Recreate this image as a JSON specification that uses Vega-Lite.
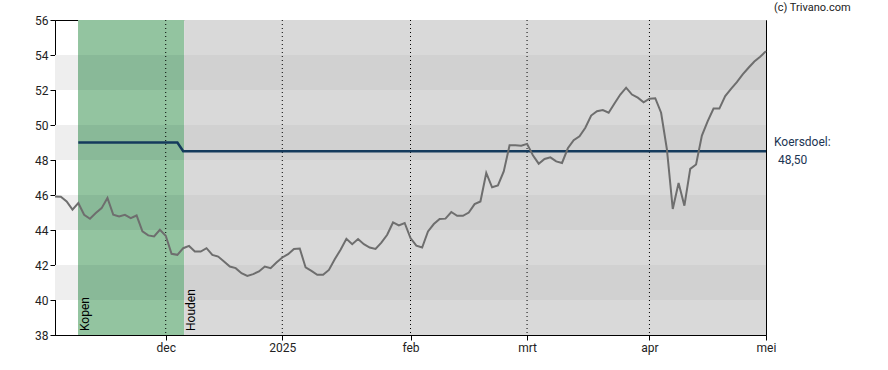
{
  "$schema": "https://vega.github.io/schema/vega-lite/v6.json",
  "width": 711,
  "height": 315,
  "autosize": {"type": "none"},
  "padding": {"left": 55, "top": 20, "right": 122, "bottom": 35},
  "background": "white",
  "config": {
    "font": "Roboto",
    "view": {"stroke": "black", "strokeWidth": 1},
    "axis": {"labelFont": "Roboto", "labelFontSize": 12, "labelColor": "#222", "domainColor": "black", "tickColor": "black", "tickSize": 5, "labelPadding": 2, "grid": false, "title": null, "labelOverlap": false, "labelFlush": false},
    "axisY": {"tickCount": 10, "labelOverlap": false}
  },
  "datasets": {
    "zones": [
      {"x": 3.95, "x2": 22.15, "y": 38, "y2": 56, "z": "kopen"},
      {"x": 22.15, "x2": 122, "y": 38, "y2": 56, "z": "houden"},
      {"x": 0, "x2": 3.95, "y": 40, "y2": 42, "z": "pre_band"},
      {"x": 0, "x2": 3.95, "y": 44, "y2": 46, "z": "pre_band"},
      {"x": 0, "x2": 3.95, "y": 48, "y2": 50, "z": "pre_band"},
      {"x": 0, "x2": 3.95, "y": 52, "y2": 54, "z": "pre_band"},
      {"x": 3.95, "x2": 22.15, "y": 40, "y2": 42, "z": "kopen_band"},
      {"x": 3.95, "x2": 22.15, "y": 44, "y2": 46, "z": "kopen_band"},
      {"x": 3.95, "x2": 22.15, "y": 48, "y2": 50, "z": "kopen_band"},
      {"x": 3.95, "x2": 22.15, "y": 52, "y2": 54, "z": "kopen_band"},
      {"x": 22.15, "x2": 122, "y": 40, "y2": 42, "z": "houden_band"},
      {"x": 22.15, "x2": 122, "y": 44, "y2": 46, "z": "houden_band"},
      {"x": 22.15, "x2": 122, "y": 48, "y2": 50, "z": "houden_band"},
      {"x": 22.15, "x2": 122, "y": 52, "y2": 54, "z": "houden_band"}
    ],
    "months": [{"i": 19}, {"i": 39}, {"i": 61}, {"i": 81}, {"i": 102}],
    "advice": [{"x": 3.95, "label": "Kopen"}, {"x": 22.15, "label": "Houden"}],
    "target": [{"i": 4, "v": 49}, {"i": 21, "v": 49}, {"i": 22, "v": 48.5}, {"i": 122, "v": 48.5}],
    "price": [
      {"i": 0, "v": 45.92}, {"i": 1, "v": 45.9}, {"i": 2, "v": 45.63}, {"i": 3, "v": 45.16}, {"i": 4, "v": 45.54},
      {"i": 5, "v": 44.87}, {"i": 6, "v": 44.64}, {"i": 7, "v": 44.97}, {"i": 8, "v": 45.25}, {"i": 9, "v": 45.83},
      {"i": 10, "v": 44.87}, {"i": 11, "v": 44.77}, {"i": 12, "v": 44.87}, {"i": 13, "v": 44.68}, {"i": 14, "v": 44.83},
      {"i": 15, "v": 43.92}, {"i": 16, "v": 43.69}, {"i": 17, "v": 43.63}, {"i": 18, "v": 44.01}, {"i": 19, "v": 43.67},
      {"i": 20, "v": 42.64}, {"i": 21, "v": 42.58}, {"i": 22, "v": 42.96}, {"i": 23, "v": 43.09}, {"i": 24, "v": 42.77},
      {"i": 25, "v": 42.77}, {"i": 26, "v": 42.96}, {"i": 27, "v": 42.58}, {"i": 28, "v": 42.48}, {"i": 29, "v": 42.2},
      {"i": 30, "v": 41.91}, {"i": 31, "v": 41.82}, {"i": 32, "v": 41.53}, {"i": 33, "v": 41.38}, {"i": 34, "v": 41.48},
      {"i": 35, "v": 41.63}, {"i": 36, "v": 41.91}, {"i": 37, "v": 41.82}, {"i": 38, "v": 42.14}, {"i": 39, "v": 42.43},
      {"i": 40, "v": 42.62}, {"i": 41, "v": 42.92}, {"i": 42, "v": 42.94}, {"i": 43, "v": 41.86}, {"i": 44, "v": 41.66},
      {"i": 45, "v": 41.44}, {"i": 46, "v": 41.44}, {"i": 47, "v": 41.72}, {"i": 48, "v": 42.33}, {"i": 49, "v": 42.87},
      {"i": 50, "v": 43.5}, {"i": 51, "v": 43.19}, {"i": 52, "v": 43.48}, {"i": 53, "v": 43.19}, {"i": 54, "v": 43.0},
      {"i": 55, "v": 42.92}, {"i": 56, "v": 43.28}, {"i": 57, "v": 43.73}, {"i": 58, "v": 44.43}, {"i": 59, "v": 44.26},
      {"i": 60, "v": 44.4}, {"i": 61, "v": 43.54}, {"i": 62, "v": 43.11}, {"i": 63, "v": 43.0}, {"i": 64, "v": 43.92},
      {"i": 65, "v": 44.34}, {"i": 66, "v": 44.63}, {"i": 67, "v": 44.65}, {"i": 68, "v": 45.03}, {"i": 69, "v": 44.81},
      {"i": 70, "v": 44.81}, {"i": 71, "v": 45.0}, {"i": 72, "v": 45.48}, {"i": 73, "v": 45.63}, {"i": 74, "v": 47.26},
      {"i": 75, "v": 46.44}, {"i": 76, "v": 46.55}, {"i": 77, "v": 47.35}, {"i": 78, "v": 48.84}, {"i": 79, "v": 48.84},
      {"i": 80, "v": 48.82}, {"i": 81, "v": 48.92}, {"i": 82, "v": 48.27}, {"i": 83, "v": 47.79}, {"i": 84, "v": 48.06},
      {"i": 85, "v": 48.15}, {"i": 86, "v": 47.92}, {"i": 87, "v": 47.83}, {"i": 88, "v": 48.67}, {"i": 89, "v": 49.13},
      {"i": 90, "v": 49.36}, {"i": 91, "v": 49.84}, {"i": 92, "v": 50.54}, {"i": 93, "v": 50.79}, {"i": 94, "v": 50.85},
      {"i": 95, "v": 50.7}, {"i": 96, "v": 51.23}, {"i": 97, "v": 51.74}, {"i": 98, "v": 52.13}, {"i": 99, "v": 51.74},
      {"i": 100, "v": 51.56}, {"i": 101, "v": 51.3}, {"i": 102, "v": 51.5}, {"i": 103, "v": 51.53}, {"i": 104, "v": 50.7},
      {"i": 105, "v": 48.6}, {"i": 106, "v": 45.2}, {"i": 107, "v": 46.69}, {"i": 108, "v": 45.39}, {"i": 109, "v": 47.49},
      {"i": 110, "v": 47.74}, {"i": 111, "v": 49.4}, {"i": 112, "v": 50.22}, {"i": 113, "v": 50.94}, {"i": 114, "v": 50.94},
      {"i": 115, "v": 51.65}, {"i": 116, "v": 52.07}, {"i": 117, "v": 52.45}, {"i": 118, "v": 52.89}, {"i": 119, "v": 53.27},
      {"i": 120, "v": 53.63}, {"i": 121, "v": 53.9}, {"i": 122, "v": 54.22}
    ],
    "note1": [{"x": 122, "y": 48.5, "label": "Koersdoel:"}],
    "note2": [{"x": 122, "y": 48.5, "label": "48,50"}],
    "credit": [{"x": 122, "y": 56, "label": "(c) Trivano.com"}]
  },
  "layer": [
    {
      "data": {"name": "zones"},
      "mark": {"type": "rect"},
      "encoding": {
        "x": {"field": "x", "type": "quantitative", "scale": {"domain": [0, 122], "nice": false, "zero": false},
              "axis": {"values": [19, 39, 61, 81, 102, 122], "labelExpr": "datum.value == 19 ? 'dec' : datum.value == 39 ? '2025' : datum.value == 61 ? 'feb' : datum.value == 81 ? 'mrt' : datum.value == 102 ? 'apr' : 'mei'"}},
        "x2": {"field": "x2"},
        "y": {"field": "y", "type": "quantitative", "scale": {"domain": [38, 56], "nice": false, "zero": false},
              "axis": {"values": [38, 40, 42, 44, 46, 48, 50, 52, 54, 56], "tickCount": 10, "labelOverlap": false}},
        "y2": {"field": "y2"},
        "color": {"field": "z", "type": "nominal", "legend": null,
                  "scale": {"domain": ["kopen", "houden", "pre_band", "kopen_band", "houden_band"],
                            "range": ["#93c4a0", "#d9d9d9", "#eeeeee", "#89b998", "#d1d1d1"]}}
      }
    },
    {
      "data": {"name": "months"},
      "mark": {"type": "rule", "color": "black", "strokeDash": [1, 3], "strokeWidth": 1},
      "encoding": {"x": {"field": "i", "type": "quantitative"}}
    },
    {
      "data": {"name": "advice"},
      "mark": {"type": "text", "angle": 270, "align": "left", "baseline": "top", "fontSize": 12, "color": "black", "dx": 4, "dy": 2},
      "encoding": {
        "x": {"field": "x", "type": "quantitative"},
        "y": {"datum": 38, "type": "quantitative"},
        "text": {"field": "label"}
      }
    },
    {
      "data": {"name": "target"},
      "mark": {"type": "line", "color": "#143a5c", "strokeWidth": 2.5},
      "encoding": {
        "x": {"field": "i", "type": "quantitative"},
        "y": {"field": "v", "type": "quantitative"}
      }
    },
    {
      "data": {"name": "price"},
      "mark": {"type": "line", "color": "#6e6e6e", "strokeWidth": 2},
      "encoding": {
        "x": {"field": "i", "type": "quantitative"},
        "y": {"field": "v", "type": "quantitative"}
      }
    },
    {
      "data": {"name": "note1"},
      "mark": {"type": "text", "align": "left", "baseline": "middle", "fontSize": 12, "color": "#1c3553", "dx": 8, "dy": -9},
      "encoding": {
        "x": {"field": "x", "type": "quantitative"},
        "y": {"field": "y", "type": "quantitative"},
        "text": {"field": "label"}
      }
    },
    {
      "data": {"name": "note2"},
      "mark": {"type": "text", "align": "left", "baseline": "middle", "fontSize": 12, "color": "#1c3553", "dx": 12, "dy": 9},
      "encoding": {
        "x": {"field": "x", "type": "quantitative"},
        "y": {"field": "y", "type": "quantitative"},
        "text": {"field": "label"}
      }
    },
    {
      "data": {"name": "credit"},
      "mark": {"type": "text", "align": "left", "baseline": "middle", "fontSize": 11, "color": "#222", "dx": 8, "dy": -12},
      "encoding": {
        "x": {"field": "x", "type": "quantitative"},
        "y": {"field": "y", "type": "quantitative"},
        "text": {"field": "label"}
      }
    }
  ]
}
